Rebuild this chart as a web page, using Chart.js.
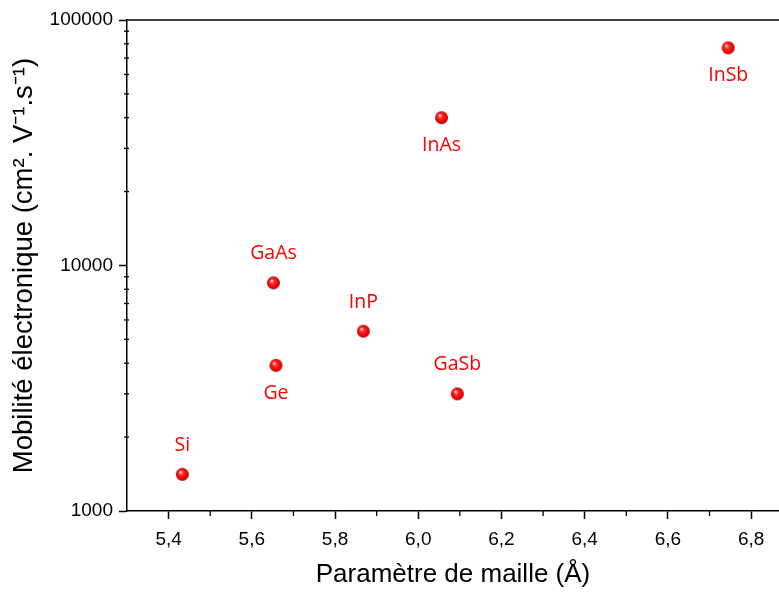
<!DOCTYPE html>
<html>
<head>
<meta charset="utf-8">
<script src="https://cdn.jsdelivr.net/npm/chart.js@4/dist/chart.umd.min.js"></script>
<style>
  html, body { margin: 0; padding: 0; background: #fff; }
  #wrap { width: 779px; height: 594px; }
</style>
</head>
<body>
<div id="wrap"><canvas id="grafica" width="779" height="594"></canvas></div>
<script>
const materiaux = ["Si", "Ge", "GaAs", "InP", "GaSb", "InAs", "InSb"];
const maille = [5.433, 5.658, 5.652, 5.868, 6.094, 6.056, 6.745];
const mobilite = [1410, 3920, 8500, 5400, 3000, 40000, 77000];
const xTicks = [5.4, 5.6, 5.8, 6.0, 6.2, 6.4, 6.6, 6.8];
const yTicks = [1000, 10000, 100000];

const enDessous = ["Ge", "InAs", "InSb"];
const rouge = "#ff0000";

// petite sphere rouge pour les points
function sphere(r) {
  const c = document.createElement("canvas");
  c.width = c.height = r * 2 + 2;
  const g = c.getContext("2d");
  const cx = r + 1, cy = r + 1;
  const grad = g.createRadialGradient(cx - r * 0.3, cy - r * 0.35, 0.5, cx, cy, r);
  grad.addColorStop(0, "#ffd6d6");
  grad.addColorStop(0.3, "#ff2a2a");
  grad.addColorStop(0.8, "#e80000");
  grad.addColorStop(1, "#b00000");
  g.fillStyle = grad;
  g.beginPath();
  g.arc(cx, cy, r, 0, Math.PI * 2);
  g.fill();
  return c;
}

const virgule = (v) => v.toFixed(1).replace(".", ",");

const cadre = {
  id: "cadre",
  afterDraw(chart) {
    const { ctx, chartArea: a, scales } = chart;
    ctx.save();
    ctx.strokeStyle = "#000";
    ctx.lineWidth = 1.5;
    ctx.beginPath();
    ctx.moveTo(a.left, a.top);
    ctx.lineTo(a.right, a.top);
    ctx.stroke();
    // graduations secondaires
    ctx.lineWidth = 1.3;
    for (let i = 0; i < xTicks.length; i++) {
      const px = scales.x.getPixelForValue(xTicks[i] + 0.1);
      if (px > a.right) continue;
      ctx.beginPath();
      ctx.moveTo(px, a.bottom);
      ctx.lineTo(px, a.bottom + 5);
      ctx.stroke();
    }
    for (let d = 1000; d < 100000; d *= 10) {
      for (let k = 2; k < 10; k++) {
        const py = scales.y.getPixelForValue(d * k);
        ctx.beginPath();
        ctx.moveTo(a.left - 3, py);
        ctx.lineTo(a.left + 2, py);
        ctx.stroke();
      }
    }
    // etiquettes des materiaux
    ctx.fillStyle = rouge;
    ctx.font = "19.5px 'Open Sans'";
    ctx.textAlign = "center";
    ctx.textBaseline = "middle";
    materiaux.forEach((m, i) => {
      const px = scales.x.getPixelForValue(maille[i]);
      const py = scales.y.getPixelForValue(mobilite[i]);
      const dy = enDessous.includes(m) ? 28 : -29;
      ctx.fillText(m, px, py + dy);
    });
    ctx.restore();
  },
};

const ctx = document.getElementById("grafica").getContext("2d");
const grafica = new Chart(ctx, {
  type: "scatter",
  data: {
    datasets: [
      {
        data: maille.map((x, i) => ({ x: x, y: mobilite[i] })),
        pointStyle: sphere(6.5),
        pointRadius: 6.5,
        backgroundColor: rouge,
      },
    ],
  },
  options: {
    responsive: false,
    animation: false,
    layout: { autoPadding: false, padding: { top: 20, right: 0, left: 0, bottom: 0 } },
    plugins: { legend: { display: false }, tooltip: { enabled: false } },
    scales: {
      x: {
        type: "linear",
        min: 5.3,
        max: 6.867,
        afterBuildTicks: (s) => { s.ticks = xTicks.map((v) => ({ value: v })); },
        afterFit: (s) => { s.height = 83; },
        border: { color: "#000", width: 1.5 },
        grid: { drawOnChartArea: false, tickLength: 8, tickColor: "#000", tickWidth: 1.5 },
        ticks: {
          color: "#000",
          font: { family: "'Liberation Sans', Arial", size: 19 },
          padding: 9,
          maxRotation: 0,
          callback: (v) => virgule(v),
        },
        title: {
          display: true,
          text: "Paramètre de maille (Å)",
          color: "#000",
          font: { family: "'Liberation Sans', Arial", size: 26 },
          padding: { top: 10 },
        },
      },
      y: {
        type: "logarithmic",
        min: 1000,
        max: 100000,
        afterBuildTicks: (s) => { s.ticks = yTicks.map((v) => ({ value: v })); },
        afterFit: (s) => { s.width = 127; },
        border: { color: "#000", width: 1.5 },
        grid: { drawOnChartArea: false, tickLength: 8, tickColor: "#000", tickWidth: 1.5 },
        ticks: {
          color: "#000",
          font: { family: "'Liberation Sans', Arial", size: 19 },
          padding: 6,
          callback: (v) => String(v),
        },
        title: {
          display: true,
          text: "Mobilité électronique (cm². V⁻¹.s⁻¹)",
          color: "#000",
          font: { family: "'Liberation Sans', Arial", size: 27.5 },
          padding: { top: 8, bottom: 0 },
        },
      },
    },
  },
  plugins: [cadre],
});
</script>
</body>
</html>
